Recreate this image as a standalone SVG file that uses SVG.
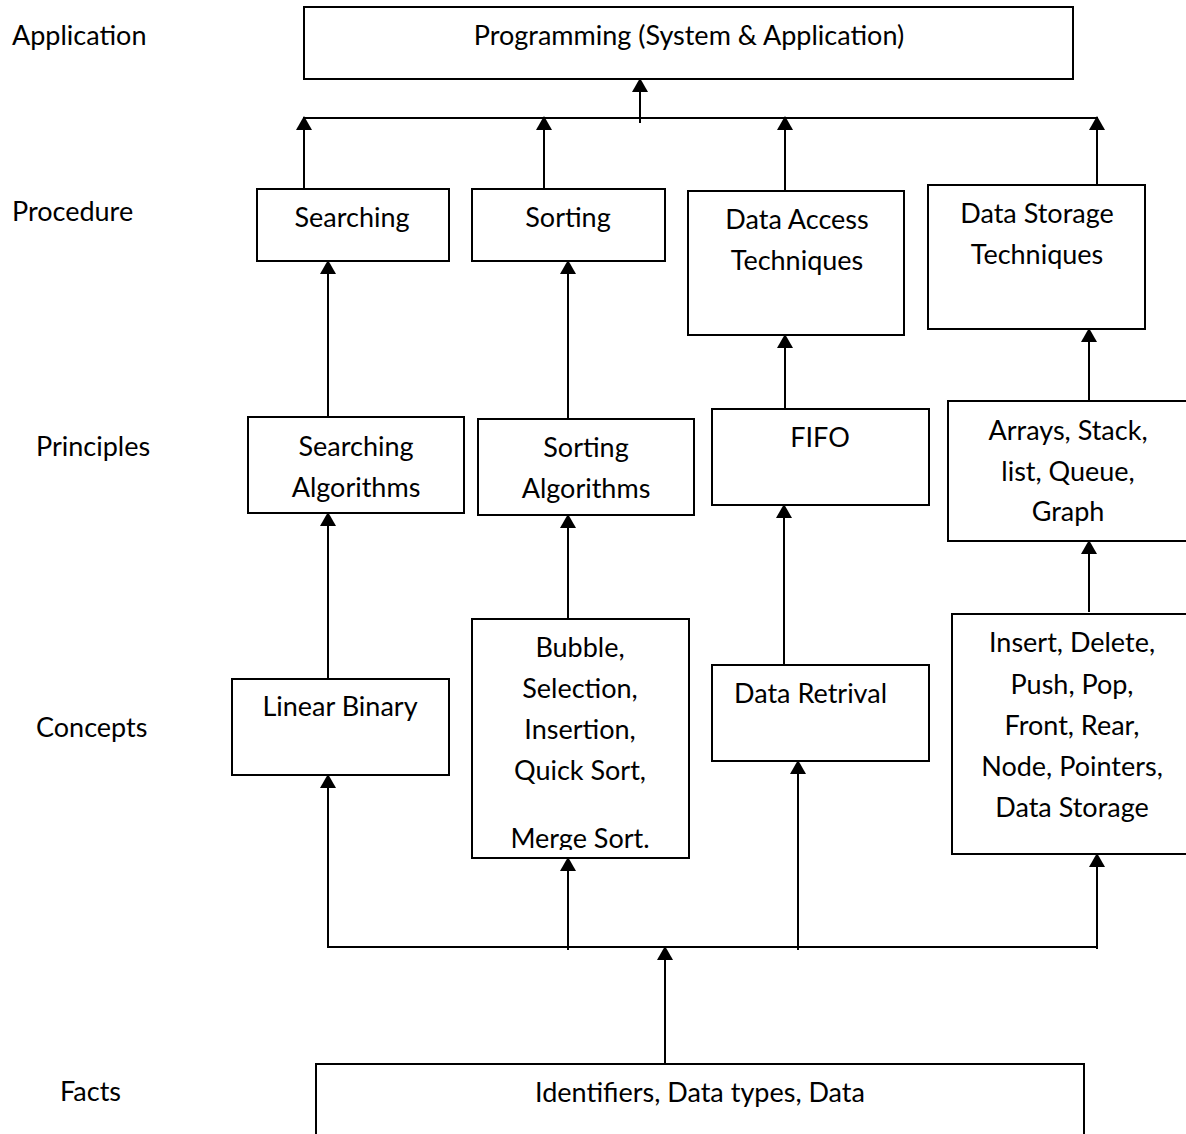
<svg xmlns="http://www.w3.org/2000/svg" width="1186" height="1134" viewBox="0 0 1186 1134">
<style>
.box{fill:#fff;stroke:#000;stroke-width:2}
.t{font-family:Lato,"Open Sans","Liberation Sans",sans-serif;font-size:27px;fill:#000;text-anchor:middle}
.l{font-family:Lato,"Open Sans","Liberation Sans",sans-serif;font-size:27px;fill:#000}
.c{fill:none;stroke:#000;stroke-width:2}
.a{marker-end:url(#ah)}
</style>
<defs>
<marker id="ah" viewBox="0 0 14 16" refX="13" refY="8" markerWidth="14" markerHeight="16" orient="auto" markerUnits="userSpaceOnUse">
<path d="M0,0 L14,8 L0,16 z" fill="#000"/>
</marker>
<clipPath id="clipMerge"><rect x="472" y="619" width="217" height="231"/></clipPath>
</defs>
<rect width="1186" height="1134" fill="#fff"/>

<g id="levels">
<text class="l" x="12" y="45">Application</text>
<text class="l" x="12" y="221">Procedure</text>
<text class="l" x="36" y="456">Principles</text>
<text class="l" x="36" y="737">Concepts</text>
<text class="l" x="60" y="1101">Facts</text>
</g>

<g id="connectors">
<path class="c a" d="M640,123 V79"/>
<path class="c" d="M304,118 H1097"/>
<path class="c a" d="M304,189 V117"/>
<path class="c a" d="M544,189 V117"/>
<path class="c a" d="M785,191 V117"/>
<path class="c a" d="M1097,185 V117"/>
<path class="c a" d="M328,417 V261"/>
<path class="c a" d="M568,419 V261"/>
<path class="c a" d="M785,409 V335"/>
<path class="c a" d="M1089,401 V329"/>
<path class="c a" d="M328,679 V513"/>
<path class="c a" d="M568,619 V515"/>
<path class="c a" d="M784,665 V505"/>
<path class="c a" d="M1089,612 V541"/>
<path class="c" d="M327,947 H1097"/>
<path class="c a" d="M328,947 V775"/>
<path class="c a" d="M568,950 V858"/>
<path class="c a" d="M798,950 V761"/>
<path class="c a" d="M1097,949 V854"/>
<path class="c a" d="M665,1064 V947"/>
</g>

<g id="n-programming">
<rect class="box" x="304" y="7" width="769" height="72"/>
<text class="t" x="689" y="45">Programming (System &amp; Application)</text>
</g>

<g id="n-searching">
<rect class="box" x="257" y="189" width="192" height="72"/>
<text class="t" x="352" y="227">Searching</text>
</g>
<g id="n-sorting">
<rect class="box" x="472" y="189" width="193" height="72"/>
<text class="t" x="568" y="227">Sorting</text>
</g>
<g id="n-data-access">
<rect class="box" x="688" y="191" width="216" height="144"/>
<text class="t" x="797" y="229">Data Access</text>
<text class="t" x="797" y="270">Techniques</text>
</g>
<g id="n-data-storage">
<rect class="box" x="928" y="185" width="217" height="144"/>
<text class="t" x="1037" y="223">Data Storage</text>
<text class="t" x="1037" y="264">Techniques</text>
</g>

<g id="n-searching-alg">
<rect class="box" x="248" y="417" width="216" height="96"/>
<text class="t" x="356" y="456">Searching</text>
<text class="t" x="356" y="497">Algorithms</text>
</g>
<g id="n-sorting-alg">
<rect class="box" x="478" y="419" width="216" height="96"/>
<text class="t" x="586" y="457">Sorting</text>
<text class="t" x="586" y="498">Algorithms</text>
</g>
<g id="n-fifo">
<rect class="box" x="712" y="409" width="217" height="96"/>
<text class="t" x="820" y="447">FIFO</text>
</g>
<g id="n-arrays">
<rect class="box" x="948" y="401" width="250" height="140"/>
<text class="t" x="1068" y="440">Arrays, Stack,</text>
<text class="t" x="1068" y="481">list, Queue,</text>
<text class="t" x="1068" y="521">Graph</text>
</g>

<g id="n-linear">
<rect class="box" x="232" y="679" width="217" height="96"/>
<text class="t" x="340" y="716">Linear Binary</text>
</g>
<g id="n-bubble">
<rect class="box" x="472" y="619" width="217" height="239"/>
<text class="t" x="580" y="657">Bubble,</text>
<text class="t" x="580" y="698">Selection,</text>
<text class="t" x="580" y="739">Insertion,</text>
<text class="t" x="580" y="780">Quick Sort,</text>
<text class="t" x="580" y="848" clip-path="url(#clipMerge)">Merge Sort.</text>
</g>
<g id="n-retrival">
<rect class="box" x="712" y="665" width="217" height="96"/>
<text class="l" x="734" y="703">Data Retrival</text>
</g>
<g id="n-insert">
<rect class="box" x="952" y="614" width="250" height="240"/>
<text class="t" x="1072" y="652">Insert, Delete,</text>
<text class="t" x="1072" y="694">Push, Pop,</text>
<text class="t" x="1072" y="735">Front, Rear,</text>
<text class="t" x="1072" y="776">Node, Pointers,</text>
<text class="t" x="1072" y="817">Data Storage</text>
</g>

<g id="n-facts">
<rect class="box" x="316" y="1064" width="768" height="90"/>
<text class="t" x="700" y="1102">Identifiers, Data types, Data</text>
</g>
</svg>
